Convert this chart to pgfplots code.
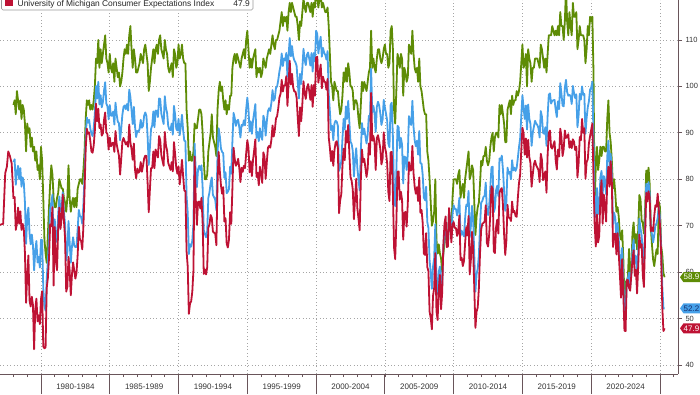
\documentclass[border=0pt]{standalone}
\usepackage{fontspec}
\setmainfont{Liberation Sans}
\usepackage{pgfplots}
\pgfplotsset{compat=1.18}
\usepackage{pgfplotstable}
\definecolor{cgreen}{RGB}{94,140,6}
\definecolor{cblue}{RGB}{70,160,232}
\definecolor{cred}{RGB}{190,18,52}
\definecolor{caxis}{RGB}{105,85,90}
\definecolor{cgrid}{RGB}{165,165,165}
\definecolor{cnavy}{RGB}{20,45,110}
\pgfplotstableread{
y m g b r
1978 1 96 83.7 75.8
1978 2 97 84.3 76.2
1978 3 94 78.8 69.1
1978 4 99 81.6 70.5
1978 5 97 82.9 73.9
1978 6 95 80.0 70.4
1978 7 97 82.4 73.1
1978 8 93 78.4 69.1
1978 9 96 80.4 70.4
1978 10 95 79.3 69.3
1978 11 92 75.0 64.1
1978 12 86 66.1 53.4
1979 1 92 72.1 59.4
1979 2 90 73.9 63.6
1979 3 91 68.4 53.9
1979 4 87 66.0 52.6
1979 5 89 68.1 54.7
1979 6 86 65.8 52.9
1979 7 87 60.4 43.4
1979 8 84 64.5 52.0
1979 9 86 66.7 54.3
1979 10 82 62.1 49.4
1979 11 83 63.3 50.7
1979 12 80 61.0 48.8
1980 1 87 67.0 54.2
1980 2 84 66.9 55.9
1980 3 76 56.5 44.0
1980 4 67 52.7 43.6
1980 5 64 51.7 43.8
1980 6 62 58.7 56.6
1980 7 68 62.3 58.7
1980 8 74 67.3 63.0
1980 9 79 73.7 70.3
1980 10 83 75.0 69.9
1980 11 81 76.7 74.0
1980 12 76 64.5 57.1
1981 1 74 71.4 69.7
1981 2 74 66.9 62.4
1981 3 76 66.5 60.4
1981 4 77 72.4 69.5
1981 5 80 76.3 73.9
1981 6 79 73.1 69.3
1981 7 78 74.1 71.6
1981 8 78 77.2 76.7
1981 9 76 73.1 71.2
1981 10 75 70.3 67.3
1981 11 73 62.5 55.8
1981 12 76 64.3 56.8
1982 1 83 71.0 63.3
1982 2 76 66.5 60.4
1982 3 73 62.0 55.0
1982 4 75 65.5 59.4
1982 5 76 67.5 62.1
1982 6 74 65.7 60.4
1982 7 76 65.4 58.6
1982 8 74 65.4 59.9
1982 9 78 69.3 63.7
1982 10 79 73.4 69.8
1982 11 80 72.1 67.0
1982 12 80 71.9 66.7
1983 1 79 70.4 64.9
1983 2 82 74.6 69.9
1983 3 86 80.8 77.5
1983 4 93 89.1 86.6
1983 5 97 93.3 90.9
1983 6 96 92.2 89.8
1983 7 97 92.8 90.1
1983 8 95 90.9 88.3
1983 9 96 89.9 86.0
1983 10 95 89.3 85.7
1983 11 97 91.1 87.3
1983 12 100 94.2 90.5
1984 1 106 100.1 96.3
1984 2 105 97.4 92.5
1984 3 110 101.0 95.2
1984 4 104 96.1 91.0
1984 5 108 98.1 91.8
1984 6 105 95.5 89.4
1984 7 107 96.6 89.9
1984 8 109 99.1 92.8
1984 9 111 100.9 94.4
1984 10 106 96.3 90.1
1984 11 105 95.7 89.7
1984 12 103 92.9 86.4
1985 1 107 96.0 89.0
1985 2 104 93.7 87.1
1985 3 103 93.7 87.7
1985 4 105 94.6 87.9
1985 5 101 91.8 85.9
1985 6 106 96.5 90.4
1985 7 104 94.0 87.6
1985 8 102 92.4 86.3
1985 9 103 92.1 85.1
1985 10 100 88.4 81.0
1985 11 101 90.9 84.4
1985 12 103 93.9 88.1
1986 1 106 95.6 88.9
1986 2 108 95.9 88.2
1986 3 107 95.1 87.5
1986 4 109 96.2 88.0
1986 5 107 94.8 87.0
1986 6 111 99.3 91.8
1986 7 113 97.7 87.9
1986 8 108 94.9 86.5
1986 9 104 91.9 84.2
1986 10 108 95.6 87.7
1986 11 106 91.4 82.1
1986 12 103 89.1 80.2
1987 1 103 90.4 82.3
1987 2 104 90.2 81.4
1987 3 105 90.8 81.7
1987 4 107 92.8 83.7
1987 5 106 91.1 81.6
1987 6 105 91.5 82.9
1987 7 108 93.7 84.5
1987 8 109 94.4 85.1
1987 9 107 93.6 85.0
1987 10 105 89.3 79.3
1987 11 99 83.1 72.9
1987 12 101 86.8 77.7
1988 1 104 90.8 82.4
1988 2 106 91.6 82.4
1988 3 108 94.6 86.0
1988 4 105 91.2 82.4
1988 5 108 94.8 86.4
1988 6 109 94.7 85.5
1988 7 107 93.4 84.7
1988 8 110 97.4 89.3
1988 9 111 97.3 88.5
1988 10 108 94.1 85.2
1988 11 107 93.0 84.0
1988 12 106 91.9 82.9
1989 1 110 97.9 90.2
1989 2 108 95.4 87.3
1989 3 107 94.3 86.2
1989 4 104 91.5 83.5
1989 5 103 90.7 82.8
1989 6 104 90.6 82.0
1989 7 105 92.0 83.7
1989 8 102 89.6 81.7
1989 9 108 95.8 88.0
1989 10 107 93.9 85.5
1989 11 104 90.9 82.5
1989 12 105 90.5 81.2
1990 1 109 93.0 82.8
1990 2 106 89.5 78.9
1990 3 107 91.3 81.3
1990 4 109 93.9 84.2
1990 5 106 90.6 80.7
1990 6 105 88.3 77.6
1990 7 105 88.2 77.4
1990 8 95 76.4 64.5
1990 9 91 72.8 61.2
1990 10 84 63.9 51.0
1990 11 86 66.0 53.2
1990 12 84 65.5 53.7
1991 1 84 66.8 55.8
1991 2 86 70.4 60.4
1991 3 92 87.7 84.9
1991 4 91 81.8 75.9
1991 5 91 78.3 70.2
1991 6 93 82.1 75.1
1991 7 95 82.9 75.2
1991 8 95 82.0 73.7
1991 9 94 83.0 76.0
1991 10 90 78.3 70.8
1991 11 84 69.1 59.6
1991 12 80 68.2 60.6
1992 1 80 67.5 59.5
1992 2 81 68.8 61.0
1992 3 86 76.0 69.6
1992 4 88 77.2 70.3
1992 5 90 79.2 72.3
1992 6 94 80.4 71.7
1992 7 89 76.6 68.7
1992 8 88 76.1 68.5
1992 9 87 75.6 68.3
1992 10 85 73.3 65.8
1992 11 95 85.3 79.1
1992 12 99 91.0 85.9
1993 1 101 89.3 81.8
1993 2 99 86.6 78.7
1993 3 100 85.9 76.9
1993 4 97 85.6 78.3
1993 5 95 80.3 70.9
1993 6 97 81.5 71.6
1993 7 94 77.0 66.1
1993 8 96 77.3 65.3
1993 9 95 77.9 67.0
1993 10 98 82.7 72.9
1993 11 98 81.2 70.4
1993 12 104 88.2 78.1
1994 1 106 94.3 86.8
1994 2 107 93.2 84.4
1994 3 105 91.5 82.9
1994 4 107 92.6 83.4
1994 5 106 92.8 84.4
1994 6 105 91.2 82.4
1994 7 104 89.0 79.4
1994 8 106 91.7 82.5
1994 9 107 91.5 81.6
1994 10 108 92.7 82.9
1994 11 106 91.6 82.4
1994 12 110 95.1 85.6
1995 1 112 97.6 88.4
1995 2 108 95.1 86.8
1995 3 104 90.3 81.5
1995 4 106 92.5 83.9
1995 5 104 89.8 80.7
1995 6 106 92.7 84.2
1995 7 107 94.4 86.3
1995 8 108 96.2 88.6
1995 9 102 88.9 80.5
1995 10 104 90.2 81.4
1995 11 103 88.2 78.7
1995 12 104 91.0 82.7
1996 1 102 89.3 81.2
1996 2 103 88.5 79.2
1996 3 106 93.7 85.8
1996 4 105 92.7 84.8
1996 5 104 89.4 80.1
1996 6 106 92.4 83.7
1996 7 107 94.7 86.8
1996 8 108 95.3 87.2
1996 9 107 94.7 86.8
1996 10 109 96.5 88.5
1996 11 111 99.2 91.6
1996 12 109 96.9 89.2
1997 1 108 97.4 90.6
1997 2 110 99.7 93.1
1997 3 110 100.0 93.6
1997 4 111 101.4 95.3
1997 5 112 103.2 97.6
1997 6 114 104.5 98.4
1997 7 116 107.1 101.4
1997 8 113 104.4 98.9
1997 9 115 106.0 100.2
1997 10 114 105.6 100.2
1997 11 115 107.2 102.2
1997 12 112 102.1 95.8
1998 1 116 106.6 100.6
1998 2 118 110.4 105.5
1998 3 116 106.5 100.4
1998 4 118 108.7 102.7
1998 5 117 106.5 99.8
1998 6 116 105.6 98.9
1998 7 115 105.2 98.9
1998 8 115 104.4 97.6
1998 9 113 100.9 93.2
1998 10 110 97.4 89.3
1998 11 114 102.7 95.5
1998 12 113 100.5 92.5
1999 1 116 103.9 96.2
1999 2 119 108.1 101.1
1999 3 117 105.7 98.5
1999 4 116 104.6 97.3
1999 5 118 106.8 99.6
1999 6 118 107.3 100.5
1999 7 117 106.0 99.0
1999 8 116 104.5 97.1
1999 9 118 107.2 100.3
1999 10 115 103.2 95.6
1999 11 118 107.2 100.3
1999 12 117 105.4 98.0
2000 1 121 112.0 106.2
2000 2 119 111.3 106.4
2000 3 117 107.1 100.8
2000 4 119 109.2 102.9
2000 5 120 110.7 104.7
2000 6 117 106.4 99.6
2000 7 118 108.3 102.1
2000 8 117 107.3 101.1
2000 9 116 106.8 100.9
2000 10 116 105.8 99.3
2000 11 117 107.6 101.6
2000 12 113 98.4 89.1
2001 1 107 94.7 86.8
2001 2 101 90.6 83.9
2001 3 100 91.5 86.1
2001 4 97 88.4 82.9
2001 5 101 92.0 86.2
2001 6 100 92.6 87.9
2001 7 99 92.4 88.2
2001 8 99 91.5 86.7
2001 9 96 81.8 72.7
2001 10 94 82.7 75.5
2001 11 95 83.9 76.8
2001 12 98 88.8 82.9
2002 1 103 93.0 86.6
2002 2 101 90.7 84.1
2002 3 104 95.7 90.4
2002 4 101 93.0 87.9
2002 5 105 96.9 91.7
2002 6 103 92.4 85.6
2002 7 100 88.1 80.5
2002 8 100 87.6 79.7
2002 9 99 86.1 77.8
2002 10 95 80.6 71.4
2002 11 97 84.2 76.0
2002 12 97 86.7 80.1
2003 1 96 82.4 73.7
2003 2 93 79.9 71.5
2003 3 91 77.6 69.0
2003 4 96 86.0 79.6
2003 5 101 92.1 86.4
2003 6 99 89.7 83.7
2003 7 101 90.9 84.4
2003 8 100 89.3 82.5
2003 9 99 87.7 80.5
2003 10 101 89.6 82.3
2003 11 103 93.7 87.7
2003 12 104 92.6 85.3
2004 1 112 103.8 98.6
2004 2 104 94.4 88.3
2004 3 106 95.8 89.3
2004 4 104 94.2 87.9
2004 5 103 90.2 82.0
2004 6 106 95.6 88.9
2004 7 108 96.7 89.5
2004 8 108 95.9 88.2
2004 9 106 94.2 86.6
2004 10 105 91.7 83.2
2004 11 106 92.8 84.4
2004 12 108 97.1 90.1
2005 1 109 95.5 86.9
2005 2 107 94.1 85.8
2005 3 107 92.6 83.4
2005 4 104 87.7 77.3
2005 5 105 86.9 75.3
2005 6 112 96.0 85.8
2005 7 113 96.5 85.9
2005 8 108 89.1 77.0
2005 9 95 76.9 65.3
2005 10 92 74.2 62.8
2005 11 99 81.6 70.5
2005 12 107 91.5 81.6
2006 1 106 91.2 81.7
2006 2 104 86.7 75.6
2006 3 107 88.9 77.3
2006 4 106 87.4 75.5
2006 5 98 79.1 67.0
2006 6 104 84.9 72.7
2006 7 103 84.7 73.0
2006 8 101 82.0 69.8
2006 9 102 85.4 74.8
2006 10 109 93.6 83.7
2006 11 108 92.1 81.9
2006 12 107 91.7 81.9
2007 1 112 96.9 87.2
2007 2 107 91.3 81.3
2007 3 104 88.4 78.4
2007 4 103 87.1 76.9
2007 5 104 88.3 78.3
2007 6 101 85.3 75.3
2007 7 106 90.4 80.4
2007 8 100 83.4 72.8
2007 9 99 83.4 73.4
2007 10 97 80.9 70.6
2007 11 95 76.1 64.0
2007 12 94 75.5 63.7
2008 1 94 78.4 68.4
2008 2 86 70.8 61.1
2008 3 84 69.5 60.2
2008 4 80 62.6 51.5
2008 5 75 59.8 50.1
2008 6 70 56.4 47.7
2008 7 71 61.2 54.9
2008 8 73 63.0 56.6
2008 9 80 70.3 64.1
2008 10 67 57.6 51.6
2008 11 64 55.3 49.7
2008 12 66 60.1 56.3
2009 1 64 61.2 59.4
2009 2 63 56.3 52.0
2009 3 60 57.3 55.6
2009 4 64 65.1 65.8
2009 5 66 68.7 70.4
2009 6 69 70.8 72.0
2009 7 67 66.0 65.4
2009 8 66 65.7 65.5
2009 9 73 73.5 73.8
2009 10 71 70.6 70.3
2009 11 69 67.4 66.4
2009 12 76 72.5 70.3
2010 1 80 74.4 70.8
2010 2 80 73.6 69.5
2010 3 80 73.6 69.5
2010 4 79 72.2 67.8
2010 5 81 73.6 68.9
2010 6 82 76.0 72.2
2010 7 76 67.8 62.6
2010 8 78 68.9 63.1
2010 9 79 68.2 61.3
2010 10 76 67.7 62.4
2010 11 80 71.6 66.2
2010 12 82 74.5 69.7
2011 1 84 74.2 67.9
2011 2 86 77.5 72.1
2011 3 80 67.5 59.5
2011 4 81 69.8 62.6
2011 5 83 74.3 68.7
2011 6 82 71.5 64.8
2011 7 75 63.7 56.5
2011 8 68 55.8 48.0
2011 9 72 59.5 51.5
2011 10 74 60.8 52.4
2011 11 75 63.7 56.5
2011 12 79 69.9 64.1
2012 1 84 75.0 69.2
2012 2 83 75.3 70.4
2012 3 85 76.2 70.6
2012 4 85 76.4 70.9
2012 5 87 79.3 74.4
2012 6 84 73.2 66.3
2012 7 83 72.3 65.5
2012 8 84 74.3 68.1
2012 9 87 78.3 72.7
2012 10 89 82.6 78.5
2012 11 90 82.7 78.0
2012 12 86 72.9 64.5
2013 1 89 73.8 64.1
2013 2 90 77.6 69.7
2013 3 90 78.6 71.3
2013 4 89 76.4 68.3
2013 5 96 84.5 77.1
2013 6 94 84.1 77.8
2013 7 96 85.1 78.1
2013 8 94 82.1 74.5
2013 9 92 77.5 68.2
2013 10 88 73.2 63.7
2013 11 88 75.1 66.8
2013 12 95 82.5 74.5
2014 1 96 81.2 71.7
2014 2 97 81.6 71.7
2014 3 94 80.0 71.0
2014 4 98 84.1 75.2
2014 5 96 81.9 72.9
2014 6 97 82.5 73.2
2014 7 97 81.8 72.1
2014 8 99 82.5 71.9
2014 9 98 84.6 76.0
2014 10 99 86.9 79.2
2014 11 101 88.8 81.0
2014 12 105 93.6 86.3
2015 1 109 98.1 91.1
2015 2 104 95.4 89.9
2015 3 105 93.0 85.3
2015 4 107 95.9 88.8
2015 5 100 90.7 84.7
2015 6 108 96.1 88.5
2015 7 106 93.1 84.8
2015 8 105 91.9 83.5
2015 9 101 87.2 78.4
2015 10 104 90.0 81.0
2015 11 104 91.3 83.2
2015 12 106 92.6 84.0
2016 1 106 92.0 83.0
2016 2 106 91.7 82.5
2016 3 105 91.0 82.0
2016 4 104 89.0 79.4
2016 5 109 94.7 85.5
2016 6 108 93.5 84.2
2016 7 106 90.0 79.8
2016 8 104 89.8 80.7
2016 9 106 91.2 81.7
2016 10 103 87.2 77.1
2016 11 107 93.8 85.4
2016 12 111 98.2 90.0
2017 1 111 98.5 90.5
2017 2 111 96.3 86.9
2017 3 113 96.9 86.6
2017 4 112 97.0 87.4
2017 5 111 97.1 88.2
2017 6 112 95.0 84.1
2017 7 111 93.4 82.1
2017 8 113 96.8 86.4
2017 9 111 95.1 84.9
2017 10 116 100.7 90.9
2017 11 113 98.5 89.2
2017 12 113 95.9 85.0
2018 1 110 95.7 86.5
2018 2 114 99.7 90.5
2018 3 121 101.4 88.9
2018 4 114 98.8 89.1
2018 5 111 98.0 89.7
2018 6 116 98.2 86.8
2018 7 113 97.9 88.2
2018 8 111 96.2 86.7
2018 9 118 100.1 88.6
2018 10 115 98.6 88.1
2018 11 115 97.5 86.3
2018 12 116 98.3 87.0
2019 1 108 91.2 80.4
2019 2 110 93.8 83.4
2019 3 113 98.4 89.1
2019 4 111 97.2 88.4
2019 5 111 100.0 93.0
2019 6 111 98.2 90.0
2019 7 110 98.4 91.0
2019 8 105 89.8 80.1
2019 9 108 93.2 83.7
2019 10 113 95.5 84.3
2019 11 111 96.8 87.7
2019 12 115 99.3 89.3
2020 1 114 99.8 90.7
2020 2 115 101.0 92.0
2020 3 103 89.1 80.2
2020 4 74 71.8 70.4
2020 5 83 72.3 65.5
2020 6 87 78.1 72.4
2020 7 82 72.5 66.4
2020 8 84 74.1 67.8
2020 9 87 80.4 76.2
2020 10 85 81.8 79.8
2020 11 87 76.9 70.4
2020 12 87 80.7 76.7
2021 1 86 79.0 74.5
2021 2 86 76.8 70.9
2021 3 93 84.9 79.7
2021 4 97 88.3 82.7
2021 5 90 82.9 78.4
2021 6 88 85.5 83.9
2021 7 84 81.2 79.4
2021 8 78 70.3 65.4
2021 9 80 72.8 68.2
2021 10 77 71.7 68.3
2021 11 73 67.4 63.8
2021 12 74 70.6 68.4
2022 1 72 67.2 64.1
2022 2 68 62.8 59.5
2022 3 67 59.4 54.5
2022 4 69 65.2 62.8
2022 5 63 58.4 55.5
2022 6 54 50.0 47.4
2022 7 58 51.5 47.3
2022 8 58 58.2 58.3
2022 9 59 58.6 58.3
2022 10 65 59.9 56.6
2022 11 58 56.8 56.0
2022 12 60 59.7 59.5
2023 1 68.4 64.9 62.7
2023 2 70.7 67.0 64.7
2023 3 66.3 62.0 59.2
2023 4 68.2 63.5 60.5
2023 5 64.9 59.0 55.4
2023 6 69.0 64.2 61.3
2023 7 76.6 71.5 68.1
2023 8 75.7 69.4 65.3
2023 9 71.1 67.9 66.0
2023 10 70.6 63.8 59.3
2023 11 68.3 61.3 56.8
2023 12 73.3 69.7 67.4
2024 1 81.9 79.0 77.1
2024 2 79.4 76.9 75.2
2024 3 82.5 79.4 77.4
2024 4 79.0 77.2 76.0
2024 5 69.6 69.1 68.8
2024 6 65.9 68.2 69.6
2024 7 62.7 66.4 68.8
2024 8 61.3 67.9 72.1
2024 9 63.3 70.1 74.4
2024 10 64.9 70.5 74.1
2024 11 63.9 71.8 76.9
2024 12 75.1 74.0 73.3
2025 1 74.0 71.7 70.2
2025 2 65.7 64.7 64.0
2025 3 63.8 57.0 52.6
2025 4 59.8 52.2 47.3
2025 5 58.9 52.2 47.9
}\umich
\begin{document}
\begin{tikzpicture}[x=1pt,y=1pt]
\begin{axis}[
  at={(0pt,20pt)}, anchor=south west,
  scale only axis, width=678pt, height=374pt,
  xmin=1977.02, xmax=2026.31, ymin=38.06, ymax=118.61,
  axis x line*=bottom, axis y line*=right,
  axis line style={-, draw=caxis, line width=0.8pt},
  ytick={40,50,60,70,80,90,100,110},
  yticklabel pos=right,
  ymajorgrids,
  major grid style={draw=cgrid, line width=0.7pt, dash pattern=on 0.8pt off 2.6pt},
  tick align=outside,
  major tick length=4pt,
  minor tick length=3pt,
  ytick style={draw=caxis, line width=0.7pt},
  y tick label style={font=\fontsize{7.5}{8}\selectfont, text=black!80},
  xtick={1982.5,1987.5,1992.5,1997.5,2002.5,2007.5,2012.5,2017.5,2022.5},
  xticklabels={1980-1984,1985-1989,1990-1994,1995-1999,2000-2004,2005-2009,2010-2014,2015-2019,2020-2024},
  major x tick style={draw=none},
  minor xtick={1977,1978,...,2026},
  minor x tick style={draw=caxis, line width=0.6pt},
  extra x ticks={1980,1985,1990,1995,2000,2005,2010,2015,2020,2025},
  extra x tick labels={},
  extra x tick style={major x tick style={draw=caxis, line width=0.8pt}, major tick length=20pt, xmajorgrids=true},
  x tick label style={font=\fontsize{8}{9}\selectfont, text=black!80, yshift=-2.5pt},
  /pgf/number format/assume math mode=true,
  /pgf/number format/1000 sep={},
  clip=true,
]
\addplot[cgreen, line width=1.8pt, line join=round, no marks] table[x expr=\thisrow{y}+(\thisrow{m}-1)/12, y=g] {\umich};
\addplot[cblue, line width=1.8pt, line join=round, no marks] table[x expr=\thisrow{y}+(\thisrow{m}-1)/12, y=b] {\umich};
\addplot[cred, line width=1.8pt, line join=round, no marks] coordinates {(1977.02,70.2) (1977.25,70.4) (1977.40,81.3) (1977.52,82.7) (1977.62,86.0) (1977.74,85.0) (1977.87,83.4) (1978.0,75.8)};
\addplot[cred, line width=1.8pt, line join=round, no marks] table[x expr=\thisrow{y}+(\thisrow{m}-1)/12, y=r] {\umich};
\coordinate (tg) at (axis cs:2026.31,58.9);
\coordinate (tb) at (axis cs:2026.31,52.2);
\coordinate (tr) at (axis cs:2026.31,47.9);
\end{axis}
% value tags
\fill[cgreen, shift={(tg)}] (2,0) -- (5.5,5) -- (40,5) -- (40,-5) -- (5.5,-5) -- cycle;
\node[anchor=west, inner sep=0pt, font=\fontsize{8}{9}\selectfont, text=white] at ([xshift=5.5pt]tg) {58.9};
\fill[cblue, shift={(tb)}] (2,0) -- (5.5,5) -- (40,5) -- (40,-5) -- (5.5,-5) -- cycle;
\node[anchor=west, inner sep=0pt, font=\fontsize{8}{9}\selectfont, text=cnavy] at ([xshift=5.5pt]tb) {52.2};
\fill[cred, shift={(tr)}] (2,0) -- (5.5,5) -- (40,5) -- (40,-5) -- (5.5,-5) -- cycle;
\node[anchor=west, inner sep=0pt, font=\fontsize{8}{9}\selectfont, text=white] at ([xshift=5.5pt]tr) {47.9};
% legend (partly cut off at the top)
\draw[draw=black!40, fill=white, line width=0.6pt, rounded corners=1.5pt] (1.5,384) rectangle (253,412);
\fill[cred] (5,388) rectangle (12.5,396);
\node[anchor=base west, inner sep=0pt, font=\fontsize{8.4}{9}\selectfont, text=black!85] at (17.5,387.6) {University of Michigan Consumer Expectations Index};
\node[anchor=base east, inner sep=0pt, font=\fontsize{8.4}{9}\selectfont, text=black!85] at (250,387.6) {47.9};
\pgfresetboundingbox
\useasboundingbox (0,0) rectangle (700,394);
\end{tikzpicture}
\end{document}
